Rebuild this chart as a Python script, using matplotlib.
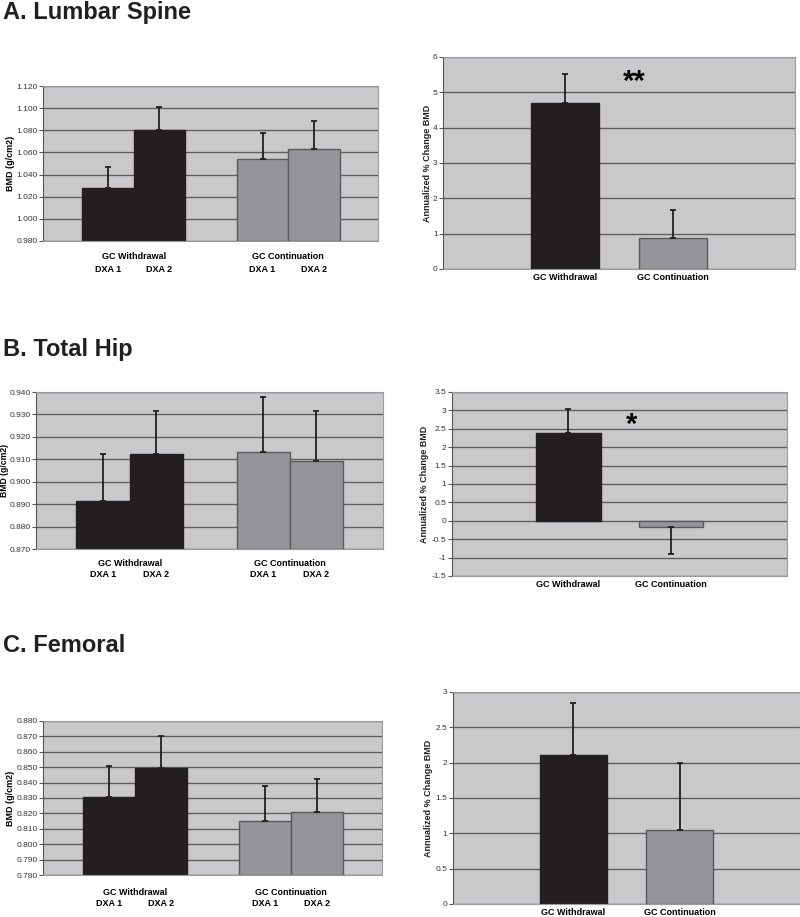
import matplotlib
matplotlib.use("Agg")
import matplotlib.pyplot as plt

plt.rcParams['font.family'] = ['Liberation Sans', 'DejaVu Sans']

# data
groups = ["GC Withdrawal", "GC Continuation"]
visits = ["DXA 1", "DXA 2"]

# BMD (g/cm2), [DXA 1, DXA 2] per group, with SEM
spine_bmd = [[1.028, 1.080], [1.054, 1.063]]
spine_bmd_err = [[0.019, 0.021], [0.024, 0.025]]
hip_bmd = [[0.8915, 0.9124], [0.9131, 0.9092]]
hip_bmd_err = [[0.0207, 0.0193], [0.0248, 0.0225]]
fem_bmd = [[0.8308, 0.8493], [0.8151, 0.8211]]
fem_bmd_err = [[0.0202, 0.0212], [0.0228, 0.0212]]

# annualized % change BMD
spine_chg = [4.71, 0.87]
spine_chg_err = [0.82, 0.80]
hip_chg = [2.38, -0.16]
hip_chg_err = [0.66, 0.74]
fem_chg = [2.11, 1.04]
fem_chg_err = [0.73, 0.96]

bar_colors = ["#231f20", "#939598"]
edge_colors = ["#231f20", "#58595b"]
bg = "#c9c9cb"
grid_c = "#5e5f61"
tick_c = "#333333"

fig = plt.figure(figsize=(8, 9.17), dpi=100)


def style_axes(ax):
    ax.set_facecolor(bg)
    ax.set_axisbelow(True)
    ax.yaxis.grid(True, color=grid_c, linewidth=1.0)
    for side in ["top", "right", "bottom"]:
        ax.spines[side].set_color("#9a9a9c")
        ax.spines[side].set_linewidth(0.8)
    ax.spines["left"].set_color("#555555")
    ax.spines["left"].set_linewidth(0.8)
    ax.tick_params(axis="y", labelsize=6, colors="#555555", labelcolor=tick_c,
                   length=3, width=0.8, pad=1)
    ax.tick_params(axis="x", length=0)


def bmd_panel(rect, vals, errs, ylim, step, gpad=8, dxa_off=-17.5, ylab_size=6.5,
              ylab_pad=1):
    ax = fig.add_axes(rect)
    style_axes(ax)
    w = 0.333
    for g in range(2):
        for v in range(2):
            x = g + (v - 0.5) * w
            ax.bar(x, vals[g][v] - ylim[0], width=w, bottom=ylim[0],
                   color=bar_colors[g], edgecolor=edge_colors[g],
                   linewidth=1.0, zorder=2)
            ax.errorbar(x, vals[g][v], yerr=[[0], [errs[g][v]]], fmt="none",
                        ecolor="#231f20", elinewidth=1.3, capsize=2.5,
                        capthick=1.3, zorder=3)
            ax.annotate(visits[v], xy=(x, 0), xycoords=("data", "axes fraction"),
                        xytext=(0, dxa_off), textcoords="offset points",
                        ha="center", va="top", fontsize=6.5, fontweight="bold")
    ax.set_xlim(-0.585, 1.583)
    ax.set_ylim(*ylim)
    n = int(round((ylim[1] - ylim[0]) / step))
    ax.set_yticks([ylim[0] + i * step for i in range(n + 1)])
    ax.yaxis.set_major_formatter(matplotlib.ticker.FormatStrFormatter("%.3f"))
    ax.set_xticks([0, 1])
    ax.set_xticklabels(groups, fontsize=6.5, fontweight="bold")
    ax.tick_params(axis="x", pad=gpad)
    ax.set_ylabel("BMD (g/cm2)", fontsize=ylab_size, fontweight="bold",
                  labelpad=ylab_pad)
    return ax


def chg_panel(rect, vals, errs, ylim, step, fmt, lpad=2):
    ax = fig.add_axes(rect)
    style_axes(ax)
    w = 0.63
    for g in range(2):
        ax.bar(g, vals[g], width=w, color=bar_colors[g],
               edgecolor=edge_colors[g], linewidth=1.0, zorder=2)
        if vals[g] >= 0:
            yerr = [[0], [errs[g]]]
        else:
            yerr = [[errs[g]], [0]]
        ax.errorbar(g, vals[g], yerr=yerr, fmt="none", ecolor="#231f20",
                    elinewidth=1.3, capsize=2.5, capthick=1.3, zorder=3)
    ax.set_xlim(-1.13, 2.13)
    ax.set_ylim(*ylim)
    n = int(round((ylim[1] - ylim[0]) / step))
    ax.set_yticks([ylim[0] + i * step for i in range(n + 1)])
    ax.yaxis.set_major_formatter(matplotlib.ticker.FuncFormatter(fmt))
    ax.set_xticks([0, 1])
    ax.set_xticklabels(groups, fontsize=6.5, fontweight="bold")
    ax.tick_params(axis="x", pad=3)
    ax.set_ylabel("Annualized % Change BMD", fontsize=6.5, fontweight="bold",
                  labelpad=lpad, color="#222222")
    return ax


def gfmt(v, pos):
    return "%g" % round(v, 2)


# A. Lumbar Spine
fig.text(0.004, 1 - 18.5 / 917, "A. Lumbar Spine", fontsize=17, fontweight="bold",
         va="baseline", color="#231f20")
bmd_panel([0.054, 0.7372, 0.419, 0.169], spine_bmd, spine_bmd_err, (0.98, 1.12), 0.02)
axA = chg_panel([0.554, 0.7067, 0.44, 0.2312], spine_chg, spine_chg_err, (0, 6), 1, gfmt,
                lpad=1)
axA.text(0.64, 5.3, "**", fontsize=21, fontweight="bold", ha="center", va="center")

# B. Total Hip
fig.text(0.004, 1 - 356 / 917, "B. Total Hip", fontsize=17, fontweight="bold",
         va="baseline", color="#231f20")
bmd_panel([0.045, 0.4013, 0.434, 0.1712], hip_bmd, hip_bmd_err, (0.87, 0.94), 0.01,
          gpad=7, dxa_off=-15, ylab_size=6.2, ylab_pad=0.3)
axB = chg_panel([0.565, 0.3719, 0.419, 0.2007], hip_chg, hip_chg_err, (-1.5, 3.5), 0.5, gfmt)
axB.text(0.62, 2.6, "*", fontsize=21, fontweight="bold", ha="center", va="center")

# C. Femoral
fig.text(0.004, 1 - 652 / 917, "C. Femoral", fontsize=17, fontweight="bold",
         va="baseline", color="#231f20")
bmd_panel([0.054, 0.0458, 0.424, 0.168], fem_bmd, fem_bmd_err, (0.78, 0.88), 0.01,
          gpad=9, dxa_off=-17.5)
chg_panel([0.566, 0.0142, 0.434, 0.2312], fem_chg, fem_chg_err, (0, 3), 0.5, gfmt)

plt.savefig("out.png", dpi=100)
